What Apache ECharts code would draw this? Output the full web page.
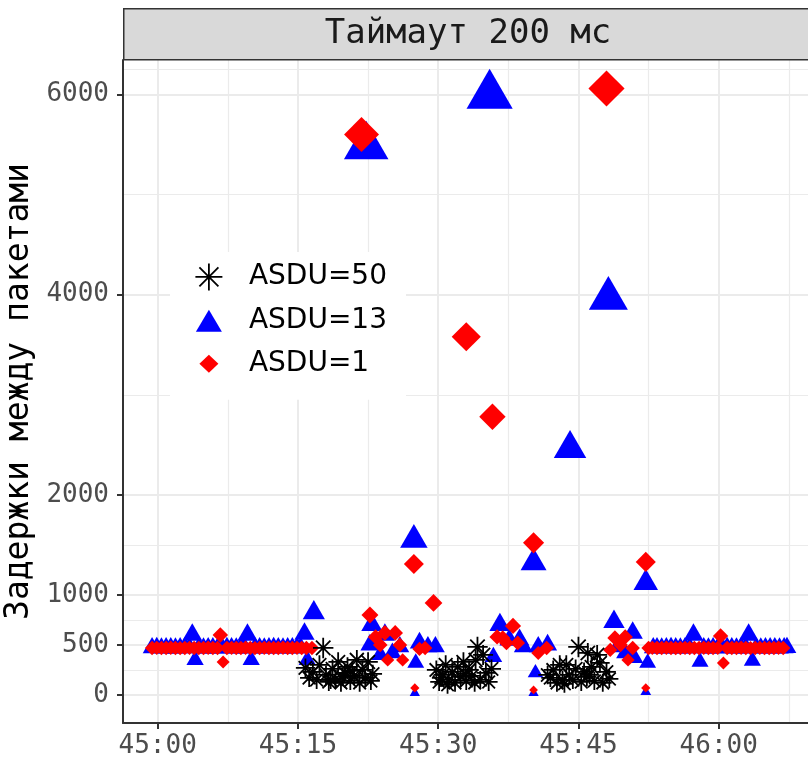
<!DOCTYPE html>
<html>
<head>
<meta charset="utf-8">
<script src="https://cdn.jsdelivr.net/npm/echarts@6/dist/echarts.min.js"></script>
<style>
  html, body { margin: 0; padding: 0; background: #fff; }
  #chart { width: 808px; height: 764px; }
</style>
</head>
<body>
<div id="chart"></div>
<script>
// время: секунды от 45:00, задержка: мс

// ASDU=50 (звёздочки)
const asdu50 = [
  [15.8, 270], [16.2, 170], [16.6, 230], [17.0, 150], [17.3, 300], [17.7, 470], [18.0, 200],
  [18.3, 130], [18.5, 150], [18.7, 260], [19.0, 160], [19.3, 330], [19.6, 120], [19.8, 180],
  [20.0, 220], [20.3, 280], [20.6, 140], [20.8, 240], [21.0, 190], [21.3, 350], [21.6, 120],
  [21.9, 250], [22.2, 170], [22.5, 330], [22.8, 140], [23.0, 210],
  [29.8, 250], [30.1, 130], [30.3, 170], [30.5, 200], [30.8, 300], [31.0, 100], [31.1, 150],
  [31.5, 230], [31.8, 120], [32.1, 280], [32.4, 180], [32.7, 330], [32.9, 210], [33.0, 140],
  [33.3, 250], [33.6, 190], [33.9, 120], [34.0, 350], [34.2, 480], [34.5, 150], [34.8, 400],
  [35.1, 220], [35.4, 130], [35.7, 260],
  [41.7, 200], [42.0, 170], [42.3, 250], [42.7, 120], [43.0, 300], [43.3, 150], [43.5, 110],
  [43.7, 300], [44.0, 200], [44.4, 150], [44.7, 260], [45.0, 480], [45.3, 130], [45.6, 230],
  [45.9, 180], [46.0, 420], [46.2, 200], [46.4, 280], [46.7, 140], [47.0, 400], [47.3, 320],
  [47.6, 120], [48.0, 230], [48.3, 160]
];

// ASDU=13 (треугольники)
const asdu13 = [
  [-0.6, 470], [-0.1, 472], [0.4, 468], [0.9, 470], [1.4, 471], [1.9, 469], [2.4, 470],
  [2.9, 472], [3.4, 470], [3.7, 600], [4.0, 350], [4.4, 470], [4.9, 469], [5.4, 471],
  [5.9, 470], [6.4, 468], [6.9, 470], [7.4, 472], [7.9, 470], [8.4, 469], [8.9, 471],
  [9.3, 470], [9.6, 600], [10.0, 350], [10.4, 470], [10.9, 471], [11.4, 469], [11.9, 470],
  [12.4, 472], [12.9, 470], [13.4, 468], [13.9, 470], [14.4, 471], [14.9, 470], [15.3, 470],
  [15.7, 610], [16.0, 350], [16.7, 820],
  [22.3, 5480], [22.7, 500], [22.9, 700], [23.8, 400], [24.3, 600], [25.1, 420], [25.9, 480],
  [27.4, 1550], [27.5, 20], [27.6, 320], [28.0, 520], [28.9, 480], [29.7, 480],
  [35.5, 5990], [35.9, 380], [36.6, 700], [37.6, 550], [38.7, 550], [39.1, 480],
  [40.2, 1320], [40.2, 20], [40.4, 220], [40.7, 480], [41.7, 500],
  [44.1, 2460], [48.2, 3960],
  [48.8, 730], [49.2, 480], [50.0, 420], [50.8, 620], [51.0, 370], [52.2, 1120], [52.2, 30],
  [52.4, 320],
  [53.0, 470], [53.4, 471], [53.9, 469], [54.4, 470], [54.9, 472], [55.4, 470], [55.9, 468],
  [56.4, 470], [56.9, 471], [57.3, 600], [58.0, 330], [58.4, 470], [58.9, 469], [59.4, 471],
  [59.9, 470], [60.4, 470], [60.9, 472], [61.4, 470], [61.9, 469], [62.4, 471], [62.9, 470],
  [63.2, 600], [63.6, 340], [64.0, 470], [64.5, 468], [65.0, 470], [65.5, 471], [66.0, 470],
  [66.5, 469], [67.0, 470], [67.3, 472]
];

// ASDU=1 (ромбы)
const asdu1 = [
  [-0.6, 470], [-0.1, 471], [0.4, 469], [0.9, 470], [1.4, 472], [1.9, 470], [2.4, 468],
  [2.9, 470], [3.4, 471], [3.9, 470], [4.4, 469], [4.9, 470], [5.4, 472], [5.9, 470],
  [6.4, 470], [6.7, 600], [7.0, 330], [7.4, 470], [7.9, 471], [8.4, 469], [8.9, 470],
  [9.4, 472], [9.9, 470], [10.4, 468], [10.9, 470], [11.4, 471], [11.9, 470], [12.4, 469],
  [12.9, 470], [13.4, 472], [13.9, 470], [14.4, 470], [14.9, 471], [15.4, 469], [15.9, 470],
  [16.5, 470],
  [21.8, 5600], [22.7, 800], [23.3, 580], [23.8, 500], [24.3, 620], [24.6, 350], [25.4, 620],
  [25.9, 500], [26.2, 350], [27.4, 1310], [27.5, 70], [28.0, 460], [28.6, 470], [29.5, 920],
  [33.0, 3580], [35.8, 2780],
  [36.3, 580], [36.9, 570], [37.3, 520], [38.0, 690], [38.5, 520], [40.2, 1520], [40.2, 50],
  [40.7, 420], [41.6, 470],
  [48.0, 6060], [48.4, 450], [48.9, 570], [49.5, 500], [50.0, 580], [50.3, 350], [50.8, 470],
  [52.2, 1330], [52.2, 70],
  [52.5, 470], [52.9, 471], [53.4, 469], [53.9, 470], [54.4, 472], [54.9, 470], [55.4, 468],
  [55.9, 470], [56.4, 471], [56.9, 470], [57.4, 469], [57.9, 470], [58.4, 472], [58.9, 470],
  [59.4, 470], [59.9, 471], [60.2, 590], [60.5, 320], [60.9, 470], [61.4, 469], [61.9, 470],
  [62.4, 472], [62.9, 470], [63.4, 468], [63.9, 470], [64.4, 471], [64.9, 470], [65.4, 469],
  [65.9, 470], [66.4, 472], [66.9, 470]
];

const xTicks = [0, 15, 30, 45, 60];
const xMinor = [7.5, 22.5, 37.5, 52.5, 67.5];
const yTicks = [0, 500, 1000, 2000, 4000, 6000];
const yMinor = [250, 750, 1500, 3000, 5000, 6250];

const monoFont = 'DejaVu Sans Mono';
const starPath = 'path://M10,0L10,20M0,10L20,10M2.93,2.93L17.07,17.07M17.07,2.93L2.93,17.07';

// размер точки растёт с задержкой (как scale_size в ggplot)
const triSize = v => { const h = 7 + 0.426 * Math.sqrt(Math.max(v, 0)); return [h * 1.155, h]; };
const diaSize = v => { const d = 6 + 0.387 * Math.sqrt(Math.max(v, 0)); return [d, d]; };
const starSize = v => 15 + 0.25 * Math.sqrt(Math.max(v, 0));

const fmtTime = v => {
  const m = 45 + Math.floor(v / 60);
  const s = Math.round(v - Math.floor(v / 60) * 60);
  return m + ':' + (s < 10 ? '0' + s : s);
};

const gridData = [
  ...yTicks.map(v => ({ yAxis: v, lineStyle: { width: 2 } })),
  ...yMinor.map(v => ({ yAxis: v, lineStyle: { width: 1.2 } })),
  ...xTicks.map(v => ({ xAxis: v, lineStyle: { width: 2 } })),
  ...xMinor.map(v => ({ xAxis: v, lineStyle: { width: 1.2 } }))
];

const chart = echarts.init(document.getElementById('chart'));

const option = {
  animation: false,
  backgroundColor: '#fff',
  grid: { left: 123, right: 0, top: 60, bottom: 41, containLabel: false, outerBoundsMode: 'none' },
  xAxis: {
    type: 'value',
    min: -3.71,
    max: 69.55,
    z: 5,
    axisLine: { onZero: false, lineStyle: { color: '#333', width: 2 } },
    axisTick: { show: true, customValues: xTicks, length: 6, lineStyle: { color: '#333', width: 2 } },
    axisLabel: {
      customValues: xTicks,
      formatter: fmtTime,
      fontFamily: monoFont,
      fontSize: 26,
      color: '#4d4d4d',
      margin: 10
    },
    splitLine: { show: false }
  },
  yAxis: {
    type: 'value',
    min: -280,
    max: 6345,
    z: 5,
    name: 'Задержки между пакетами',
    nameLocation: 'middle',
    nameGap: 80,
    nameTextStyle: { fontFamily: monoFont, fontSize: 33, color: '#000' },
    axisLine: { show: true, onZero: false, lineStyle: { color: '#333', width: 2 } },
    axisTick: { show: true, customValues: yTicks, length: 6, lineStyle: { color: '#333', width: 2 } },
    axisLabel: {
      customValues: yTicks,
      formatter: v => String(v),
      fontFamily: monoFont,
      fontSize: 26,
      color: '#4d4d4d',
      margin: 14
    },
    splitLine: { show: false }
  },
  legend: {
    orient: 'vertical',
    left: 170,
    top: 252,
    z: 6,
    backgroundColor: '#fff',
    padding: [10, 19, 22, 24],
    itemWidth: 28,
    itemHeight: 28,
    itemGap: 15,
    selectedMode: false,
    textStyle: { fontFamily: 'DejaVu Sans', fontSize: 28, color: '#000', padding: [4, 0, 0, 21] },
    data: [
      {
        name: 'ASDU=50',
        icon: 'path://M0,0M28,28M14,0.5L14,27.5M0.5,14L27.5,14M4.5,4.5L23.5,23.5M23.5,4.5L4.5,23.5',
        itemStyle: { color: '#000', borderColor: '#000', borderWidth: 1.8 }
      },
      { name: 'ASDU=13', icon: 'path://M0,0M28,28M14,3L27,25L1,25Z', itemStyle: { color: '#0000ff', borderWidth: 0 } },
      { name: 'ASDU=1', icon: 'path://M0,0M28,28M14,5L23.5,14L14,23L4.5,14Z', itemStyle: { color: '#ff0000', borderWidth: 0 } }
    ]
  },
  graphic: [
    {
      type: 'rect',
      left: 123,
      top: 8,
      z: 10,
      shape: { width: 700, height: 51 },
      style: { fill: '#d9d9d9', stroke: '#333', lineWidth: 1.5 }
    },
    {
      type: 'text',
      x: 468,
      y: 34,
      z: 11,
      style: {
        text: 'Таймаут 200 мс',
        font: '34px "DejaVu Sans Mono"',
        fill: '#1a1a1a',
        align: 'center',
        verticalAlign: 'middle'
      }
    }
  ],
  series: [
    {
      name: 'grid',
      type: 'scatter',
      data: [],
      silent: true,
      z: 1,
      markLine: {
        z: 1,
        silent: true,
        animation: false,
        symbol: ['none', 'none'],
        label: { show: false },
        lineStyle: { color: '#ebebeb', type: 'solid' },
        emphasis: { disabled: true },
        data: gridData
      }
    },
    {
      name: 'ASDU=13',
      type: 'scatter',
      data: asdu13,
      symbol: 'triangle',
      symbolSize: v => triSize(v[1]),
      symbolOffset: [0, '-17%'],
      itemStyle: { color: '#0000ff', opacity: 1 },
      z: 2
    },
    {
      name: 'ASDU=1',
      type: 'scatter',
      data: asdu1,
      symbol: 'diamond',
      symbolSize: v => diaSize(v[1]),
      itemStyle: { color: '#ff0000', opacity: 1 },
      z: 3
    },
    {
      name: 'ASDU=50',
      type: 'scatter',
      data: asdu50,
      symbol: starPath,
      symbolSize: v => starSize(v[1]),
      itemStyle: { color: '#000', borderColor: '#000', borderWidth: 1.8, opacity: 1 },
      z: 4
    }
  ]
};

option && chart.setOption(option);
</script>
</body>
</html>
